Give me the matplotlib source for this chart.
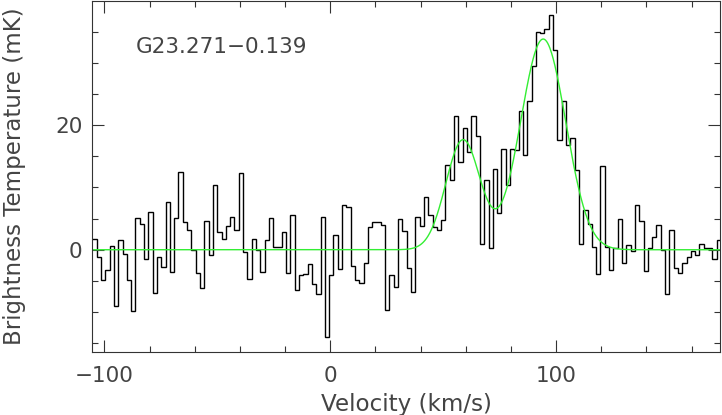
import numpy as np
import matplotlib
matplotlib.use('Agg')
import matplotlib.pyplot as plt
from matplotlib.ticker import MultipleLocator

# brightness temperature per channel (mK), left to right
temps = [
    1.8, -1.2, -4.8, -3.2, 0.6, -9.0, 1.6, -0.7, -4.8, -9.9, 5.1, 4.1, -1.5, 6.1, -7.0, -1.2, -2.7, 7.6,
    -3.5, 5.1, 12.5, 4.5, 3.1, 0.0, -3.8, -6.2, 4.6, -0.9, 10.4, 2.8, 1.8, 3.8, 5.3, 3.1, 12.3,
    -0.4, -4.7, 1.8, 0.0, -3.5, 1.6, 5.1, 0.4, 0.5, 2.9, -3.8, 5.5, -6.4, -4.1, -3.9, -2.3, -5.5, -7.1,
    5.3, -14.0, -4.1, 2.3, -3.1, 7.2, 6.9, -2.6, -4.8, -5.3, -2.2, 3.6, 4.5, 4.4, 4.0, -9.6, -4.1,
    -5.9, 4.9, 3.0, -3.0, -6.8, 5.2, 3.8, 8.5, 5.5, 3.6, 3.2, 4.7, 13.6, 11.2, 21.4, 14.0, 19.6,
    15.6, 21.5, 18.3, 0.9, 11.2, 0.3, 12.9, 5.9, 16.2, 10.4, 16.2, 16.0, 22.3, 15.2, 23.8, 29.5, 35.0, 34.7,
    35.4, 37.6, 32.0, 17.6, 23.8, 16.8, 18.0, 12.8, 0.9, 6.3, 4.2, 0.5, -3.9, 13.5, 0.5, -3.2, 0.3, 4.9,
    -2.1, 0.7, -0.2, 7.2, 4.6, -3.4, 0.2, 2.1, 3.9, 0.0, -7.1, 3.2, -3.0, -3.8, -2.1, -1.1, -0.2, -0.8,
    0.9, 0.3, 0.2, -1.5, 1.6,
]

# channel grid (km/s)
v_first_edge = -105.36
chan_width = 1.907

# two-component gaussian fit
fit_amp = [17.6, 33.8]
fit_center = [58.8, 94.3]
fit_sigma = [7.6, 10.0]

source_name = 'G23.271\u22120.139'
x_ticks = [-100, 0, 100]
y_ticks = [0, 20]

edges = v_first_edge + chan_width * np.arange(len(temps) + 1)
v_fit = np.linspace(-110, 180, 1200)
t_fit = np.zeros_like(v_fit)
for a, c, s in zip(fit_amp, fit_center, fit_sigma):
    t_fit += a * np.exp(-(v_fit - c) ** 2 / (2 * s ** 2))

plt.rcParams['font.family'] = ['DejaVu Sans']
text_col = '#444444'
axis_col = '#333333'

fig = plt.figure(figsize=(7.22, 4.15), dpi=100)
ax = fig.add_axes([0.1278, 0.1511, 0.8694, 0.8465])

ax.stairs(temps, edges, baseline=None, color='black', linewidth=1.0)
ax.plot(v_fit, t_fit, color='#33ee33', linewidth=1.0)

ax.set_xlim(-105.4, 172.6)
ax.set_ylim(-16.45, 39.9)

ax.set_xticks(x_ticks)
ax.set_yticks(y_ticks)
ax.xaxis.set_minor_locator(MultipleLocator(20))
ax.yaxis.set_minor_locator(MultipleLocator(5))
ax.tick_params(which='both', direction='in', top=True, right=True,
               color=axis_col, width=0.8, labelsize=15.5, labelcolor=text_col)
ax.tick_params(which='major', length=8.6)
ax.tick_params(which='minor', length=4.3)
ax.tick_params(axis='x', pad=10)
ax.tick_params(axis='y', pad=7)

for sp in ax.spines.values():
    sp.set_color(axis_col)
    sp.set_linewidth(0.8)

ax.text(0.0696, 0.869, source_name, transform=ax.transAxes,
        ha='left', va='center', fontsize=15.5, color=text_col)

fig.text(406 / 722, 1 - 404 / 415, 'Velocity (km/s)', ha='center', va='center',
         fontsize=16.6, color=text_col)
fig.text(14.5 / 722, 1 - 176 / 415, 'Brightness Temperature (mK)', ha='center', va='center',
         rotation=90, fontsize=16.5, color=text_col)

fig.savefig('out.png', dpi=100)
